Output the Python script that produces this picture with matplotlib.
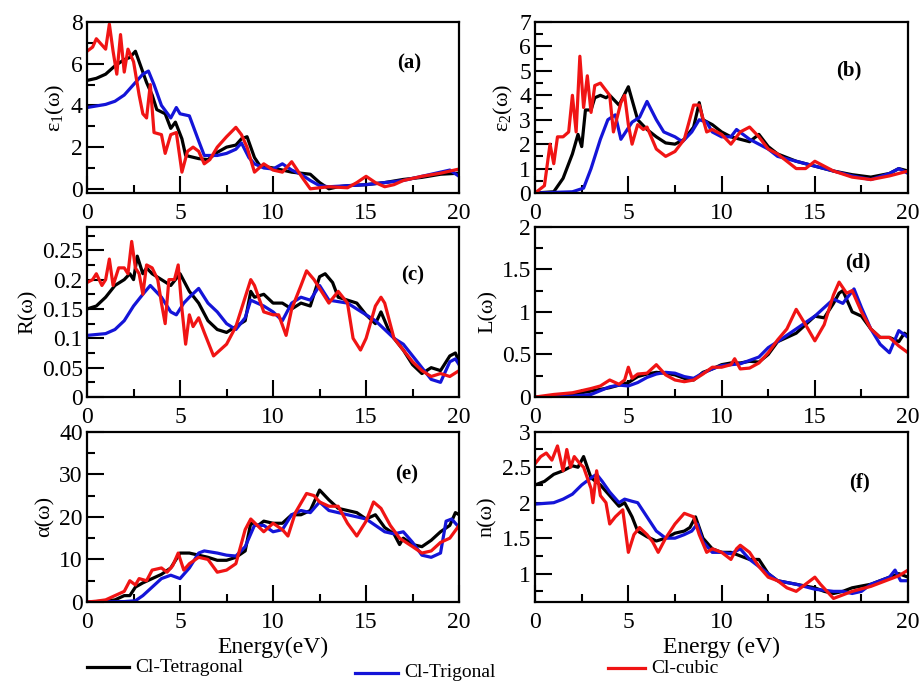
import numpy as np
import matplotlib
matplotlib.use("Agg")
import matplotlib.pyplot as plt
from matplotlib.lines import Line2D
from matplotlib.ticker import MultipleLocator, FormatStrFormatter

plt.rcParams['font.family'] = ['Liberation Serif', 'DejaVu Serif']
plt.rcParams['mathtext.fontset'] = 'custom'
plt.rcParams['mathtext.rm'] = 'Liberation Serif'

series_names = ['Cl-Tetragonal', 'Cl-Trigonal', 'Cl-cubic']
series_colors = ['#000000', '#1414d8', '#f01414']

# (a) eps1
a_tet_E = [0,0.5,1,1.5,2,2.3,2.6,3.2,3.5,3.75,4.2,4.5,4.75,5.1,5.3,6,6.5,7,7.5,8,8.3,8.6,9,9.3,10,11,12,12.5,13,13.5,14,15,16,17,18,19,20]
a_tet = [5.2,5.3,5.5,5.9,6.2,6.3,6.6,5.1,4.5,3.8,3.6,2.9,3.2,2.4,1.6,1.45,1.4,1.75,2.0,2.1,2.4,2.5,1.5,1.1,1.0,0.8,0.7,0.3,0.0,0.1,0.15,0.2,0.3,0.45,0.55,0.7,0.75]
a_tri_E = [0,1,1.5,2,2.5,3,3.3,3.6,4,4.5,4.8,5,5.5,6,6.3,7,7.5,8,8.3,8.7,9,9.5,10,10.5,11,11.5,12,12.5,13,14,15,16,17,18,19,19.5,20]
a_tri = [3.9,4.05,4.2,4.5,5.0,5.5,5.65,5.0,4.0,3.4,3.9,3.6,3.5,2.3,1.6,1.6,1.7,1.9,2.2,1.5,1.2,1.0,0.95,1.2,0.9,0.7,0.4,0.15,0.1,0.15,0.2,0.3,0.4,0.6,0.8,0.9,0.6]
a_cub_E = [0,0.3,0.5,0.8,1.0,1.2,1.4,1.6,1.8,2.0,2.2,2.5,2.8,3.0,3.2,3.4,3.6,4.0,4.2,4.5,4.8,5.1,5.4,5.7,6.0,6.3,6.6,7,7.5,8,8.3,8.6,9,9.5,10,10.5,11,11.3,11.6,12,12.5,13,14,14.5,15,15.5,16,16.5,17,18,19,19.5,20]
a_cub = [6.6,6.8,7.2,6.9,6.7,7.9,6.6,5.5,7.4,5.6,6.7,6.1,4.5,3.6,3.4,5.0,2.7,2.6,1.7,2.6,2.7,0.8,1.8,2.0,1.8,1.2,1.4,2.0,2.5,2.95,2.6,2.0,0.8,1.2,0.9,0.8,1.3,0.9,0.5,0.0,0.05,0.1,0.05,0.3,0.6,0.3,0.1,0.2,0.4,0.6,0.75,0.85,0.95]

# (b) eps2
b_tet_E = [0,1,1.5,1.8,2,2.3,2.5,2.7,3,3.2,3.5,3.8,4,4.5,5,5.5,6,6.5,7,7.5,8,8.5,8.8,9,9.5,10,10.5,11,11.5,12,12.5,13,14,15,16,17,18,19,19.5,20]
b_tet = [0,0.05,0.6,1.2,1.6,2.4,1.9,3.4,3.4,3.9,4.0,3.9,4.0,3.6,4.35,3.0,2.6,2.3,2.05,2.0,2.2,2.7,3.7,3.0,2.8,2.5,2.3,2.2,2.1,2.4,1.9,1.6,1.3,1.1,0.9,0.75,0.65,0.8,1.0,0.9]
b_tri_E = [0,2,2.6,3,3.5,3.9,4.3,4.6,5.2,5.6,6.0,6.5,6.9,7.5,7.9,8.4,8.8,9.2,9.5,10,10.5,10.8,11.5,12,12.5,13,14,15,16,17,18,19,19.5,20]
b_tri = [0,0.05,0.2,1.0,2.2,3.0,3.2,2.2,2.9,3.1,3.75,3.0,2.5,2.3,2.1,2.5,3.0,2.9,2.5,2.3,2.3,2.6,2.2,2.0,1.8,1.5,1.3,1.1,0.9,0.7,0.55,0.8,1.0,0.8]
b_cub_E = [0,0.5,0.8,1.0,1.2,1.5,1.8,2.0,2.2,2.4,2.6,2.8,3.0,3.2,3.5,4.0,4.2,4.6,4.8,5.0,5.2,5.5,5.8,6.0,6.5,7,7.5,8,8.5,8.8,9.2,9.5,10,10.5,11,11.5,12,12.5,13,14,14.5,15,15.5,16,17,18,19,20]
b_cub = [0,0.3,2.0,1.2,2.3,2.3,2.5,4.0,2.5,5.6,3.5,4.8,3.3,4.4,4.5,4.0,2.5,3.7,4.0,2.8,2.0,2.8,2.6,2.7,1.8,1.5,1.7,2.2,3.6,3.6,2.5,2.6,2.4,2.0,2.5,2.7,2.3,1.8,1.6,1.0,1.0,1.3,1.1,0.9,0.65,0.55,0.7,0.9]

# (c) reflectivity
c_tet_E = [0,0.5,1,1.5,2,2.3,2.5,2.7,3,3.2,3.5,4,4.5,5,5.5,6,6.5,7,7.5,8,8.5,8.8,9,9.5,10,10.5,11,11.5,12,12.5,12.8,13.2,13.5,14,14.5,15,15.5,15.8,16.2,16.5,17,17.5,18,18.5,19,19.5,19.8,20]
c_tet = [0.15,0.155,0.17,0.19,0.2,0.21,0.2,0.24,0.21,0.22,0.21,0.2,0.19,0.21,0.18,0.16,0.13,0.115,0.11,0.12,0.13,0.18,0.17,0.175,0.16,0.16,0.15,0.16,0.155,0.205,0.21,0.195,0.17,0.165,0.16,0.14,0.125,0.145,0.115,0.1,0.08,0.055,0.04,0.05,0.045,0.07,0.075,0.06]
c_tri_E = [0,1,1.5,2,2.5,3,3.4,4,4.5,4.8,5.2,5.5,6,6.5,7,7.5,8,8.5,8.8,9.5,10,10.5,11,11.5,12,12.5,13,14,14.5,15,15.5,16,16.5,17,17.5,18,18.5,19,19.5,19.8,20]
c_tri = [0.105,0.108,0.115,0.13,0.155,0.175,0.19,0.17,0.145,0.14,0.16,0.17,0.185,0.16,0.145,0.125,0.115,0.135,0.165,0.155,0.145,0.13,0.16,0.17,0.165,0.19,0.165,0.16,0.15,0.14,0.13,0.115,0.1,0.09,0.07,0.05,0.03,0.025,0.06,0.065,0.055]
c_cub_E = [0,0.3,0.5,0.8,1,1.2,1.4,1.7,2,2.2,2.4,2.6,2.8,3,3.2,3.5,3.8,4,4.2,4.4,4.7,4.9,5.1,5.3,5.5,5.7,6,6.3,6.8,7.5,8,8.5,8.8,9,9.5,10,10.3,10.7,11,11.5,11.8,12.2,12.5,13,13.5,14,14.3,14.7,15,15.5,15.8,16,16.5,17,17.5,18,18.5,19,19.5,20]
c_cub = [0.195,0.2,0.21,0.19,0.2,0.235,0.19,0.22,0.22,0.21,0.265,0.22,0.21,0.175,0.225,0.22,0.2,0.16,0.125,0.2,0.2,0.225,0.15,0.09,0.14,0.12,0.135,0.11,0.07,0.09,0.12,0.17,0.2,0.19,0.145,0.14,0.14,0.105,0.15,0.19,0.215,0.2,0.185,0.16,0.18,0.16,0.1,0.08,0.1,0.155,0.17,0.16,0.1,0.08,0.06,0.045,0.035,0.04,0.035,0.045]

# (d) energy loss
d_tet_E = [0,1,2,3,4,5,5.5,6,6.5,7,7.5,8,8.5,9,9.5,10,10.5,11,11.5,12,12.5,13,14,14.5,15,15.5,16,16.3,16.5,17,17.5,18,18.5,19,19.5,19.8,20]
d_tet = [0,0.01,0.03,0.07,0.11,0.17,0.24,0.27,0.29,0.28,0.26,0.22,0.2,0.29,0.33,0.38,0.4,0.4,0.42,0.41,0.5,0.65,0.75,0.85,0.95,0.93,1.1,1.22,1.25,1.0,0.95,0.8,0.7,0.7,0.65,0.75,0.72]
d_tri_E = [0,2,3,4,4.5,5,5.5,6,6.5,7,7.5,8,8.5,9,9.5,10,10.5,11,11.5,12,12.5,13,14,15,15.5,16,16.5,17.1,17.5,18,18.5,19,19.5,20]
d_tri = [0,0.01,0.03,0.12,0.14,0.13,0.17,0.23,0.27,0.29,0.28,0.24,0.22,0.28,0.33,0.37,0.38,0.39,0.43,0.47,0.58,0.65,0.8,0.95,1.05,1.15,1.1,1.27,1.05,0.8,0.62,0.52,0.78,0.7]
d_cub_E = [0,1,2,3,3.5,4,4.5,4.8,5,5.2,5.5,6,6.5,7,7.5,8,8.5,9,9.5,10,10.5,10.7,11,11.5,12,12.5,13,13.5,14,14.5,15,15.5,16,16.3,16.7,17,17.5,18,18.5,19,19.5,20]
d_cub = [0,0.03,0.05,0.1,0.13,0.2,0.15,0.2,0.35,0.22,0.27,0.28,0.38,0.26,0.2,0.18,0.2,0.27,0.35,0.35,0.38,0.45,0.33,0.34,0.4,0.52,0.67,0.8,1.03,0.85,0.66,0.85,1.2,1.35,1.22,1.25,1.0,0.8,0.7,0.7,0.6,0.52]

# (e) absorption
e_tet_E = [0,1,1.5,2,2.3,2.6,3,3.5,4,4.5,5,5.5,6,6.5,7,7.5,8,8.5,8.8,9.2,9.5,10,10.5,11,11.5,12,12.5,13,13.5,14,14.5,15,15.5,16,16.5,16.8,17,17.5,18,18.5,19,19.5,19.8,20]
e_tet = [0,0.2,0.5,1.5,1.5,3.5,4.5,5.5,6.5,8,11.5,11.5,11,10.5,9.8,9.8,10.5,12,18.5,18,19,18.5,18.5,20.5,20.5,21.5,26.3,24,22,21.5,21,19.5,20.5,17.5,16,13.5,15,13.5,13,14.5,16.5,18,21,20.5]
e_tri_E = [0,2,2.6,3,3.5,4,4.5,5,5.5,6,6.3,7,7.5,8,8.5,9,9.5,10,10.5,11,11.5,12,12.5,13,14,15,15.5,16,16.5,17,17.5,18,18.5,19,19.3,19.6,20]
e_tri = [0,0.1,0.3,1.5,3.5,5.5,6.3,5.5,8,11.5,12,11.5,11,10.8,13,18,18,16.5,17,20.5,21.5,21,23.5,21.5,20.5,19.5,18,16.5,16,16.5,14,11,10.5,11.5,19,19.5,17.5]
e_cub_E = [0,0.5,1,1.5,2,2.3,2.6,2.8,3.2,3.5,4,4.3,4.6,4.9,5.2,5.5,6,6.5,7,7.5,8,8.5,8.8,9.5,10,10.5,10.8,11.2,11.8,12.2,12.5,13,13.5,14,14.5,15,15.4,15.8,16.3,16.8,17.5,18,18.5,19,19.5,20]
e_cub = [0,0.2,0.5,1.5,2.5,5,4,5.5,5,7.5,8,7,8.5,11.5,7.5,9,10.5,10,7,7.5,9,17,19.5,16.5,18.5,17,15.5,21,25.5,25,23.5,22.5,22.5,18.5,15.5,19,23.5,22,18,15,13,11.5,12,14,15,18]

# (f) refractive index
f_tet_E = [0,0.5,1,1.5,2,2.3,2.6,3,3.5,4,4.5,4.8,5.2,5.5,6,6.5,7,7.5,8,8.3,8.6,9,9.5,10,10.5,11,11.5,12,12.5,13,14,15,15.5,16,16.5,17,18,19,19.5,20]
f_tet = [2.25,2.3,2.4,2.45,2.52,2.5,2.65,2.35,2.25,2.1,1.95,2.0,1.8,1.6,1.52,1.46,1.5,1.57,1.6,1.65,1.8,1.5,1.35,1.3,1.3,1.25,1.2,1.2,1.0,0.9,0.85,0.8,0.75,0.72,0.75,0.8,0.85,0.95,1.0,0.95]
f_tri_E = [0,1,1.5,2,2.5,3,3.3,3.6,4,4.5,4.8,5.2,5.5,6,6.5,7,7.5,8,8.4,8.7,9,9.5,10,10.5,11,11.5,12,12.5,13,14,15,16,16.5,17,17.5,18,19,19.3,19.6,20]
f_tri = [1.98,2.0,2.05,2.12,2.25,2.35,2.4,2.3,2.15,2.0,2.05,2.02,2.0,1.8,1.6,1.5,1.5,1.55,1.6,1.7,1.45,1.3,1.3,1.28,1.35,1.2,1.1,1.0,0.9,0.85,0.78,0.75,0.75,0.72,0.75,0.85,0.95,1.05,0.9,0.9]
f_cub_E = [0,0.3,0.6,0.9,1.2,1.5,1.7,1.9,2.1,2.4,2.6,3,3.1,3.3,3.5,3.8,4,4.3,4.7,5,5.3,5.6,6,6.3,6.6,7,7.5,8,8.5,8.8,9.2,9.5,10,10.5,10.8,11,11.5,12,12.5,13,13.5,14,14.5,15,15.3,16,16.5,17,18,19,19.5,20]
f_cub = [2.55,2.65,2.7,2.6,2.8,2.45,2.75,2.5,2.65,2.55,2.5,2.2,2.0,2.45,2.1,2.0,1.7,1.8,1.9,1.3,1.55,1.65,1.55,1.45,1.3,1.5,1.7,1.85,1.8,1.55,1.3,1.35,1.3,1.2,1.35,1.4,1.3,1.1,0.95,0.9,0.8,0.75,0.85,0.95,0.85,0.65,0.7,0.75,0.82,0.92,0.97,1.05]

ylabels = ['ε$_\\mathregular{1}$(ω)', 'ε$_\\mathregular{2}$(ω)', 'R(ω)', 'L(ω)', 'α(ω)', 'n(ω)']
tags = ['(a)', '(b)', '(c)', '(d)', '(e)', '(f)']
xlabels = [None, None, None, None, 'Energy(eV)', 'Energy (eV)']

panels = [
    [(a_tet_E, a_tet), (a_tri_E, a_tri), (a_cub_E, a_cub)],
    [(b_tet_E, b_tet), (b_tri_E, b_tri), (b_cub_E, b_cub)],
    [(c_tet_E, c_tet), (c_tri_E, c_tri), (c_cub_E, c_cub)],
    [(d_tet_E, d_tet), (d_tri_E, d_tri), (d_cub_E, d_cub)],
    [(e_tet_E, e_tet), (e_tri_E, e_tri), (e_cub_E, e_cub)],
    [(f_tet_E, f_tet), (f_tri_E, f_tri), (f_cub_E, f_cub)],
]

# axes layout (figure fractions), limits and ticks
rects = [(0.0945, 0.7166, 0.404, 0.251), (0.581, 0.7166, 0.405, 0.251),
         (0.0945, 0.417, 0.404, 0.25), (0.581, 0.417, 0.405, 0.25),
         (0.0945, 0.116, 0.404, 0.25), (0.581, 0.116, 0.405, 0.25)]
ylims = [(-0.2, 8), (0, 7), (0, 0.29), (0, 2), (0, 40), (0.6, 3)]
yticks = [(2, 1), (1, 0.5), (0.05, 0.025), (0.5, 0.25), (10, 5), (0.5, 0.25)]
tagpos = [(17.3, 6.0), (16.8, 5.0), (17.5, 0.207), (17.3, 1.58), (17.2, 29.9), (17.4, 2.29)]

fig = plt.figure(figsize=(9.21, 6.81), dpi=100)

for i in range(6):
    ax = fig.add_axes(rects[i])
    for (E, v), col in zip(panels[i], series_colors):
        ax.plot(E, v, color=col, lw=2.3)
    ax.set_xlim(0, 20)
    ax.set_ylim(*ylims[i])
    ax.xaxis.set_major_locator(MultipleLocator(5))
    ax.xaxis.set_minor_locator(MultipleLocator(2.5))
    ax.yaxis.set_major_locator(MultipleLocator(yticks[i][0]))
    ax.yaxis.set_minor_locator(MultipleLocator(yticks[i][1]))
    ax.yaxis.set_major_formatter(FormatStrFormatter('%g'))
    ax.tick_params(which='both', direction='in', width=1.5, top=False, right=False, labelsize=17)
    ax.tick_params(which='major', length=12)
    ax.tick_params(axis='x', which='major', pad=7)
    ax.tick_params(axis='y', which='major', pad=3)
    ax.tick_params(which='minor', length=6)
    for s in ax.spines.values():
        s.set_linewidth(1.6)
    ax.set_ylabel(ylabels[i], fontsize=16, labelpad=3)
    if xlabels[i]:
        ax.set_xlabel(xlabels[i], fontsize=17, labelpad=3)
    ax.text(tagpos[i][0], tagpos[i][1], tags[i], fontsize=15, fontweight='bold',
            ha='center', va='center')

# legend along the bottom
leg_pos = [(0.094, 0.14, 0.020), (0.385, 0.432, 0.012), (0.66, 0.70, 0.019)]
for (x0, x1, y), name, col in zip(leg_pos, series_names, series_colors):
    fig.add_artist(Line2D([x0, x1], [y, y], color=col, lw=2.3, transform=fig.transFigure))
    fig.text(x1 + 0.007, y, name, fontsize=14, va='center', ha='left')

fig.savefig('out.png', dpi=100)
